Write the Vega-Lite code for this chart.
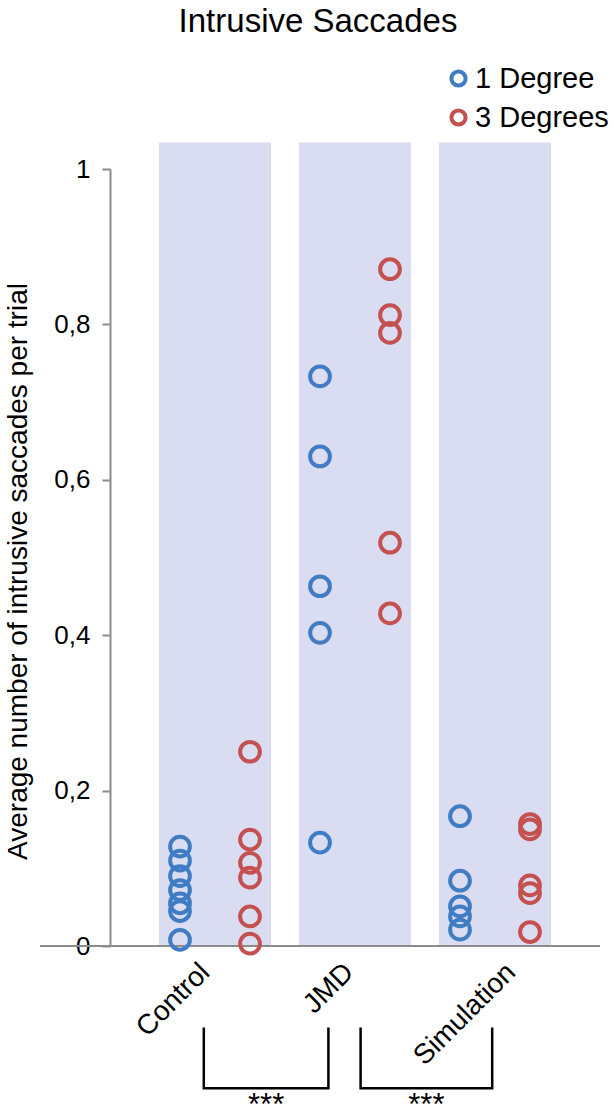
{
  "$schema": "https://vega.github.io/schema/vega-lite/v6.json",
  "autosize": {"type": "none"},
  "width": 490,
  "height": 777,
  "padding": {"left": 110, "top": 169, "right": 15, "bottom": 165},
  "background": "white",
  "config": {"font": "Liberation Sans", "view": {"stroke": null}},
  "title": {"text": "Intrusive Saccades", "fontSize": 33, "fontWeight": "normal", "color": "black", "anchor": "middle", "frame": "group", "dx": -37, "offset": 25},
  "datasets": {
    "bands": [
      {"group": "Control", "lo": 0.6, "hi": 1.4},
      {"group": "JMD", "lo": 1.6, "hi": 2.4},
      {"group": "Simulation", "lo": 2.6, "hi": 3.4}
    ],
    "points": [
      {"group": "Control", "degree": "1 Degree", "pos": 0.75, "value": 0.128},
      {"group": "Control", "degree": "1 Degree", "pos": 0.75, "value": 0.11},
      {"group": "Control", "degree": "1 Degree", "pos": 0.75, "value": 0.09},
      {"group": "Control", "degree": "1 Degree", "pos": 0.75, "value": 0.072},
      {"group": "Control", "degree": "1 Degree", "pos": 0.75, "value": 0.055},
      {"group": "Control", "degree": "1 Degree", "pos": 0.75, "value": 0.045},
      {"group": "Control", "degree": "1 Degree", "pos": 0.75, "value": 0.008},
      {"group": "Control", "degree": "3 Degrees", "pos": 1.25, "value": 0.25},
      {"group": "Control", "degree": "3 Degrees", "pos": 1.25, "value": 0.137},
      {"group": "Control", "degree": "3 Degrees", "pos": 1.25, "value": 0.107},
      {"group": "Control", "degree": "3 Degrees", "pos": 1.25, "value": 0.088},
      {"group": "Control", "degree": "3 Degrees", "pos": 1.25, "value": 0.038},
      {"group": "Control", "degree": "3 Degrees", "pos": 1.25, "value": 0.003},
      {"group": "JMD", "degree": "1 Degree", "pos": 1.75, "value": 0.733},
      {"group": "JMD", "degree": "1 Degree", "pos": 1.75, "value": 0.63},
      {"group": "JMD", "degree": "1 Degree", "pos": 1.75, "value": 0.463},
      {"group": "JMD", "degree": "1 Degree", "pos": 1.75, "value": 0.403},
      {"group": "JMD", "degree": "1 Degree", "pos": 1.75, "value": 0.133},
      {"group": "JMD", "degree": "3 Degrees", "pos": 2.25, "value": 0.871},
      {"group": "JMD", "degree": "3 Degrees", "pos": 2.25, "value": 0.812},
      {"group": "JMD", "degree": "3 Degrees", "pos": 2.25, "value": 0.789},
      {"group": "JMD", "degree": "3 Degrees", "pos": 2.25, "value": 0.519},
      {"group": "JMD", "degree": "3 Degrees", "pos": 2.25, "value": 0.428},
      {"group": "Simulation", "degree": "1 Degree", "pos": 2.75, "value": 0.167},
      {"group": "Simulation", "degree": "1 Degree", "pos": 2.75, "value": 0.084},
      {"group": "Simulation", "degree": "1 Degree", "pos": 2.75, "value": 0.051},
      {"group": "Simulation", "degree": "1 Degree", "pos": 2.75, "value": 0.038},
      {"group": "Simulation", "degree": "1 Degree", "pos": 2.75, "value": 0.021},
      {"group": "Simulation", "degree": "3 Degrees", "pos": 3.25, "value": 0.157},
      {"group": "Simulation", "degree": "3 Degrees", "pos": 3.25, "value": 0.15},
      {"group": "Simulation", "degree": "3 Degrees", "pos": 3.25, "value": 0.078},
      {"group": "Simulation", "degree": "3 Degrees", "pos": 3.25, "value": 0.068},
      {"group": "Simulation", "degree": "3 Degrees", "pos": 3.25, "value": 0.018}
    ],
    "brackets": [
      {"b": "a", "o": 1, "bx": 0.92, "by": -0.105},
      {"b": "a", "o": 2, "bx": 0.92, "by": -0.183},
      {"b": "a", "o": 3, "bx": 1.81, "by": -0.183},
      {"b": "a", "o": 4, "bx": 1.81, "by": -0.105},
      {"b": "b", "o": 1, "bx": 2.04, "by": -0.105},
      {"b": "b", "o": 2, "bx": 2.04, "by": -0.183},
      {"b": "b", "o": 3, "bx": 2.98, "by": -0.183},
      {"b": "b", "o": 4, "bx": 2.98, "by": -0.105}
    ],
    "stars": [
      {"sx": 1.365, "sy": -0.186, "t": "***"},
      {"sx": 2.51, "sy": -0.186, "t": "***"}
    ]
  },
  "layer": [
    {
      "data": {"name": "bands"},
      "mark": {"type": "rect", "color": "#dadcf1"},
      "encoding": {
        "x": {"field": "lo", "type": "quantitative", "scale": {"domain": [0.25, 3.75], "nice": false, "zero": false},
          "axis": {"values": [1, 2, 3], "labelExpr": "datum.value == 1 ? 'Control' : datum.value == 2 ? 'JMD' : 'Simulation'", "labelAngle": -45, "labelFontSize": 28, "labelColor": "black", "domain": false, "ticks": false, "grid": false, "title": null, "labelPadding": 12,
            "labelOffset": {"condition": [{"test": "datum.value == 3", "value": 6}, {"test": "datum.value == 1", "value": -20}], "value": -16}}},
        "x2": {"field": "hi"},
        "y": {"datum": 0, "type": "quantitative", "scale": {"domain": [0, 1], "nice": false},
          "axis": {"values": [0, 0.2, 0.4, 0.6, 0.8, 1], "labelExpr": "replace(format(datum.value, '~g'), '.', ',')", "grid": false, "domainColor": "#8c8c8c", "domainWidth": 2, "tickColor": "#8c8c8c", "tickWidth": 2, "tickSize": 8, "labelPadding": 12, "labelFontSize": 26, "labelColor": "black", "title": "Average number of intrusive saccades per trial", "titleFontSize": 28, "titleFontWeight": "normal", "titleColor": "black", "titlePadding": 21, "titleY": 402}},
        "y2": {"datum": 1.034}
      }
    },
    {
      "data": {"name": "bands"},
      "mark": {"type": "rule", "color": "#8c8c8c", "strokeWidth": 2},
      "encoding": {
        "x": {"datum": -0.25, "type": "quantitative"},
        "x2": {"datum": 3.75},
        "y": {"datum": 0, "type": "quantitative"}
      }
    },
    {
      "data": {"name": "points"},
      "mark": {"type": "point", "shape": "circle", "filled": false, "size": 390, "strokeWidth": 4, "opacity": 1},
      "encoding": {
        "x": {"field": "pos", "type": "quantitative"},
        "y": {"field": "value", "type": "quantitative"},
        "color": {"field": "degree", "type": "nominal",
          "scale": {"domain": ["1 Degree", "3 Degrees"], "range": ["#3f7cc4", "#c4504f"]},
          "legend": {"title": null, "orient": "none", "legendX": 334, "legendY": -105, "labelFontSize": 29, "labelColor": "black", "symbolSize": 200, "symbolStrokeWidth": 4, "symbolType": "circle", "rowPadding": 8, "labelOffset": 2}}
      }
    },
    {
      "data": {"name": "brackets"},
      "mark": {"type": "line", "color": "black", "strokeWidth": 2.5, "strokeJoin": "miter"},
      "encoding": {
        "x": {"field": "bx", "type": "quantitative"},
        "y": {"field": "by", "type": "quantitative"},
        "detail": {"field": "b"},
        "order": {"field": "o"}
      }
    },
    {
      "data": {"name": "stars"},
      "mark": {"type": "text", "fontSize": 31, "color": "black", "baseline": "top", "align": "center"},
      "encoding": {
        "x": {"field": "sx", "type": "quantitative"},
        "y": {"field": "sy", "type": "quantitative"},
        "text": {"field": "t"}
      }
    }
  ]
}
